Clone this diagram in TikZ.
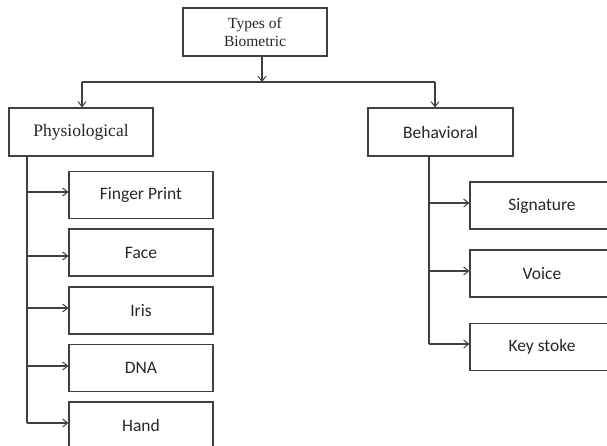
\documentclass[tikz,border=0pt]{standalone}
\usepackage{fontspec}
\setmainfont{Liberation Serif}
\newfontfamily\calfont{Carlito}
\usetikzlibrary{arrows.meta,calc}
\definecolor{linec}{HTML}{404040}
\begin{document}
\begin{tikzpicture}[x=1pt,y=-1pt,
  box/.style={draw=linec,line width=1.2pt,inner sep=0pt,minimum width=144pt,minimum height=47pt,text=black!85},
  sbox/.style={box,font=\calfont\fontsize{17.5}{20}\selectfont},
  tbox/.style={box,font=\fontsize{17.5}{20}\selectfont},
  conn/.style={draw=linec,line width=1.2pt},
  arr/.style={conn,-{Straight Barb[length=5pt,width=8pt,line width=1pt]}}]
\useasboundingbox (0,0) rectangle (607,445);
\clip (0,0) rectangle (607,445);
% top
\node[box,minimum height=48pt,align=center,font=\fontsize{15.5}{18}\selectfont] (top) at (255,32) {Types of\\Biometric};
\node[tbox,minimum height=48pt] (phys) at (81,132) {Physiological};
\node[sbox,minimum width=145pt,minimum height=48pt] (beh) at (440.5,132) {Behavioral};
% left children
\node[sbox] (fp) at (141,195) {Finger Print};
\node[sbox] (face) at (141,252.5) {Face};
\node[sbox] (iris) at (141,310.5) {Iris};
\node[sbox] (dna) at (141,368) {DNA};
\node[sbox] (hand) at (141,425.5) {Hand};
% right children
\node[sbox] (sig) at (542,205.5) {Signature};
\node[sbox] (voice) at (542,273.5) {Voice};
\node[sbox] (key) at (542,347) {Key stoke};
% junctions
\coordinate (tj) at (262,82);
\coordinate (hl) at (82,82);
\coordinate (hr) at (435,82);
\draw[arr] (top.south -| tj) -- (tj);
\draw[conn] (hl) -- (hr);
\draw[arr] (hl) -- (phys.north -| hl);
\draw[arr] (hr) -- (beh.north -| hr);
% left trunk
\coordinate (l1) at (27,192);
\coordinate (l2) at (27,256);
\coordinate (l3) at (27,308);
\coordinate (l4) at (27,366);
\coordinate (l5) at (27,423);
\draw[conn] (phys.south -| l1) -- (l5);
\draw[arr] (l1) -- (fp.west |- l1);
\draw[arr] (l2) -- (face.west |- l2);
\draw[arr] (l3) -- (iris.west |- l3);
\draw[arr] (l4) -- (dna.west |- l4);
\draw[arr] (l5) -- (hand.west |- l5);
% right trunk
\coordinate (r1) at (429,203);
\coordinate (r2) at (429,271);
\coordinate (r3) at (429,344);
\draw[conn] (beh.south -| r1) -- (r3);
\draw[arr] (r1) -- (sig.west |- r1);
\draw[arr] (r2) -- (voice.west |- r2);
\draw[arr] (r3) -- (key.west |- r3);
\end{tikzpicture}
\end{document}
